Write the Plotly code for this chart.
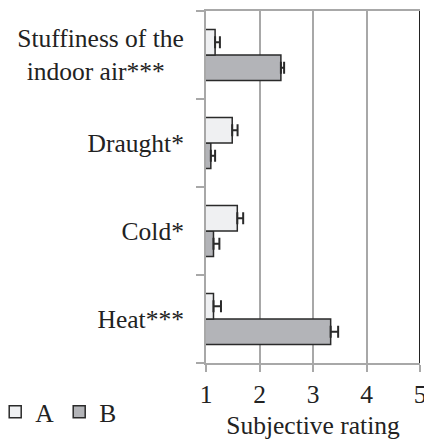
import plotly.graph_objects as go

categories = ["Heat***", "Cold*", "Draught*", "Stuffiness of the<br>indoor air***&nbsp;&nbsp;&nbsp;"]
series_a = [1.14, 1.585, 1.49, 1.17]
series_a_err = [0.14, 0.11, 0.10, 0.09]
series_b = [3.33, 1.14, 1.09, 2.40]
series_b_err = [0.14, 0.11, 0.08, 0.06]
x_ticks = [1, 2, 3, 4, 5]

FONT = "Liberation Serif"
FS = 25.5
TXT = "#222222"
GRID = "#a8a8a8"
EDGE = "#2a2a2a"

fig = go.Figure()
fig.add_trace(go.Bar(
    name="B", y=categories, x=series_b, orientation="h",
    marker=dict(color="#b3b4b8", line=dict(color=EDGE, width=1.5)),
    error_x=dict(type="data", array=series_b_err, arrayminus=[0] * 4, symmetric=False,
                 color=EDGE, thickness=2, width=6),
    legendrank=2,
))
fig.add_trace(go.Bar(
    name="A", y=categories, x=series_a, orientation="h",
    marker=dict(color="#eff0f2", line=dict(color=EDGE, width=1.5)),
    error_x=dict(type="data", array=series_a_err, arrayminus=[0] * 4, symmetric=False,
                 color=EDGE, thickness=2, width=6),
    legendrank=1,
))

fig.add_shape(type="line", xref="x", yref="paper", x0=5, x1=5, y0=0, y1=1,
              line=dict(color="#222222", width=2))

fig.update_layout(
    width=424, height=444,
    margin=dict(l=206, r=4, t=11, b=81, autoexpand=False),
    paper_bgcolor="white", plot_bgcolor="white",
    barmode="group", bargap=0.42, bargroupgap=0,
    font=dict(family=FONT, size=FS, color=TXT),
    showlegend=True,
    legend=dict(orientation="h", x=-0.985, xanchor="left", y=-0.14, yanchor="middle",
                font=dict(family=FONT, size=FS, color=TXT),
                itemwidth=30, tracegroupgap=0, bgcolor="rgba(0,0,0,0)"),
    xaxis=dict(range=[1, 5], tickvals=x_ticks, ticktext=[str(v) for v in x_ticks],
               showgrid=True, gridcolor=GRID, gridwidth=2,
               showline=True, linecolor=GRID, linewidth=2, mirror=True,
               ticks="outside", ticklen=7, tickwidth=2, tickcolor=GRID,
               ticklabeloverflow="allow",
               tickfont=dict(family=FONT, size=FS, color=TXT),
               title=dict(text="Subjective rating", font=dict(family=FONT, size=FS, color=TXT),
                          standoff=9),
               automargin=False, zeroline=False, fixedrange=True),
    yaxis=dict(type="category", categoryorder="array", categoryarray=categories,
               showline=True, linecolor=GRID, linewidth=2,
               ticks="outside", tickson="boundaries", ticklen=8, tickwidth=2, tickcolor=GRID,
               ticklabelstandoff=15,
               tickfont=dict(family=FONT, size=FS, color=TXT),
               automargin=False, showgrid=False, fixedrange=True),
)

fig.write_html(
    "out.html",
    config={"displayModeBar": False},
    post_script="document.body.style.margin='0';document.body.style.overflow='hidden';",
)
